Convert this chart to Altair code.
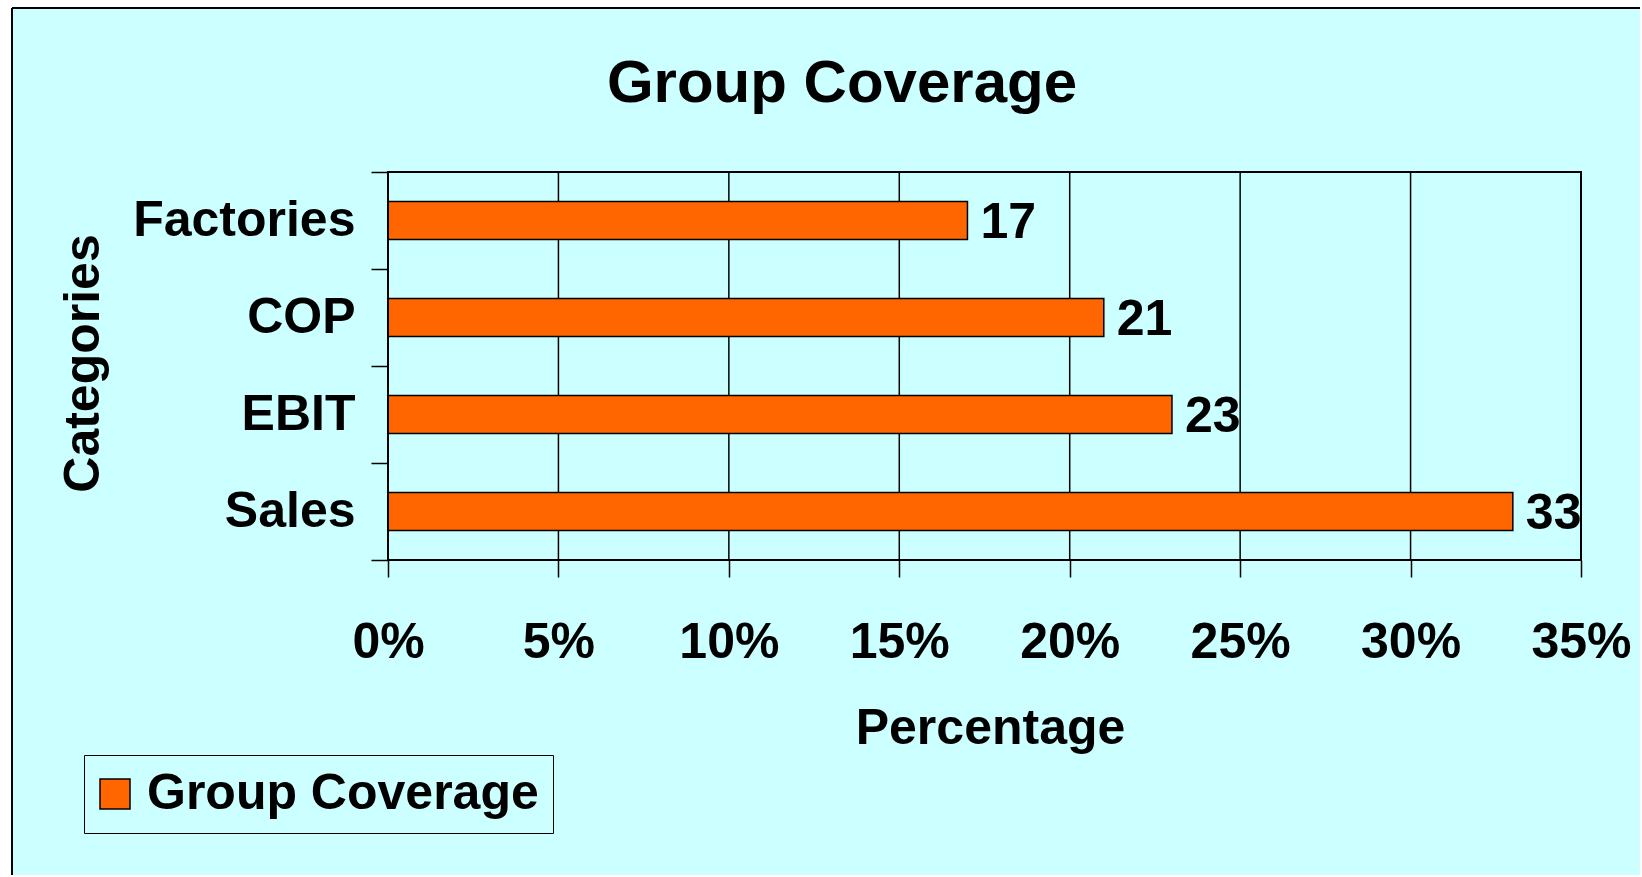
import altair as alt
import pandas as pd

# ---- data ----
categories = ["Factories", "COP", "EBIT", "Sales"]
values = [17, 21, 23, 33]
series_name = "Group Coverage"
x_ticks = [0, 5, 10, 15, 20, 25, 30, 35]

FONT = "Liberation Sans"
BG = "#CCFFFF"
BAR = "#FF6600"

df = pd.DataFrame({"category": categories, "value": values, "series": [series_name] * len(categories)})
ticks_df = pd.DataFrame({"tick": x_ticks})

x_scale = alt.Scale(domain=[0, 35], nice=False, zero=True)
y_scale = alt.Scale(domain=categories, paddingInner=0, paddingOuter=0)

x_enc = alt.X(
    "value:Q",
    scale=x_scale,
    axis=alt.Axis(
        values=x_ticks,
        labelExpr="datum.value + '%'",
        labelFlush=False,
        labelFont=FONT, labelFontSize=50, labelFontWeight="bold", labelColor="black",
        labelBaseline="alphabetic", labelPadding=80,
        tickSize=17, tickColor="black", tickWidth=1.5,
        domain=False, grid=False,
        title="Percentage", titleFont=FONT, titleFontSize=50, titleFontWeight="bold",
        titleColor="black", titleBaseline="alphabetic", titleX=602, titleY=183,
        zindex=1,
    ),
)
y_enc = alt.Y(
    "category:N",
    scale=y_scale,
    sort=categories,
    axis=alt.Axis(
        tickBand="extent",
        labelFont=FONT, labelFontSize=50, labelFontWeight="bold", labelColor="black",
        labelPadding=16, labelLimit=400,
        tickSize=17, tickColor="black", tickWidth=1.5,
        domain=False, grid=False,
        title="Categories", titleFont=FONT, titleFontSize=50, titleFontWeight="bold",
        titleColor="black", titleAngle=270, titleBaseline="alphabetic",
        titleX=-290, titleY=191,
        zindex=1,
    ),
)

one = alt.Data(values=[{}])

# page background panel with its left / top border lines
panel = alt.Chart(one).mark_rect(fill=BG, strokeWidth=0).encode(
    x=alt.value(-376), x2=alt.value(1252), y=alt.value(-164), y2=alt.value(703)
)
left_line = alt.Chart(one).mark_rule(color="black", strokeWidth=2).encode(
    x=alt.value(-376), y=alt.value(-164), y2=alt.value(703)
)
top_line = alt.Chart(one).mark_rule(color="black", strokeWidth=2).encode(
    x=alt.value(-376), x2=alt.value(1252), y=alt.value(-164)
)

grid = alt.Chart(ticks_df).mark_rule(color="black", strokeWidth=1.5).encode(
    x=alt.X("tick:Q", scale=x_scale, axis=None)
)

bars = alt.Chart(df).mark_bar(height=38, stroke="black", strokeWidth=1.5).encode(
    x=x_enc,
    y=y_enc,
    color=alt.Color(
        "series:N",
        scale=alt.Scale(domain=[series_name], range=[BAR]),
        legend=alt.Legend(
            orient="none", legendX=-304, legendY=583,
            title=None,
            labelFont=FONT, labelFontSize=50, labelFontWeight="bold", labelColor="black",
            labelOffset=7, labelLimit=600,
            symbolType="square", symbolSize=900, symbolStrokeColor="black",
            symbolStrokeWidth=1.5, symbolOffset=-8,
            padding=14, strokeColor="black", fillColor=BG, cornerRadius=0,
        ),
    ),
)

labels = alt.Chart(df).mark_text(
    align="left", baseline="middle", dx=13, dy=2,
    font=FONT, fontSize=50, fontWeight="bold", color="black",
).encode(
    x=alt.X("value:Q", scale=x_scale, axis=None),
    y=alt.Y("category:N", scale=y_scale, sort=categories, axis=None),
    text=alt.Text("value:Q", format="d"),
)

frame = alt.Chart(one).mark_rect(fillOpacity=0, stroke="black", strokeWidth=2).encode(
    x=alt.value(0), x2=alt.value("width"), y=alt.value(0), y2=alt.value("height")
)

chart = alt.layer(panel, left_line, top_line, grid, bars, labels, frame).resolve_axis(
    x="independent", y="independent"
).properties(
    width=1193,
    height=388,
    background="white",
    padding={"left": 11, "top": 7, "right": 0, "bottom": 0},
    title=alt.TitleParams(
        "Group Coverage", font=FONT, fontSize=60, fontWeight="bold", color="black",
        anchor="start", align="center", frame="group", dx=454, baseline="alphabetic",
        offset=-155,
    ),
).configure_view(stroke=None)

chart.save("out.html", embed_options={"renderer": "svg", "actions": False})
